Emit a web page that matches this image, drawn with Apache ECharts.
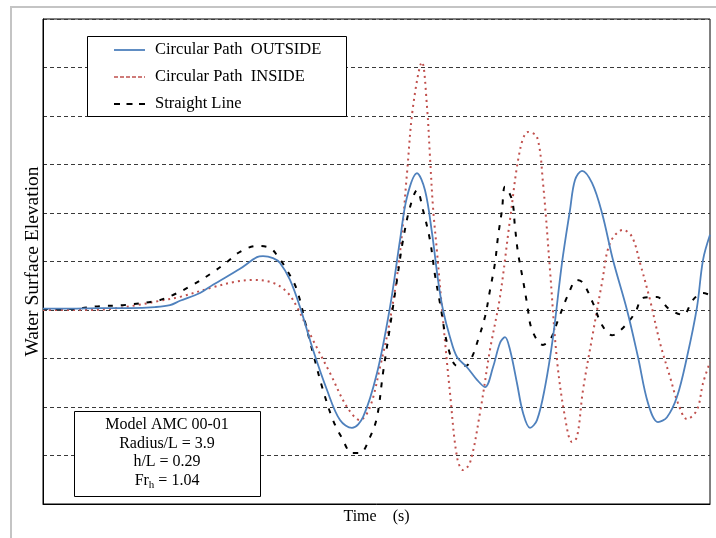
<!DOCTYPE html>
<html>
<head>
<meta charset="utf-8">
<script src="https://cdn.jsdelivr.net/npm/echarts@6/dist/echarts.min.js"></script>
<style>
html,body{margin:0;padding:0;background:#fff;}
#chart{width:716px;height:538px;}
</style>
</head>
<body>
<div id="chart"></div>
<script>
// Time (s) and water surface elevation readings (arbitrary units, grid step = 1)
const outsideT = [0,0.54,1.14,1.74,2.24,2.54,2.74,3.14,3.40,3.94,4.28,4.40,4.60,4.74,4.94,5.14,5.40,5.68,5.94,6.18,6.40,6.68,6.94,7.14,7.28,7.48,7.64,7.78,7.90,8.00,8.14,8.28,8.48,8.68,8.84,9.00,9.14,9.24,9.34,9.48,9.60,9.74,9.88,10.04,10.20,10.38,10.54,10.64,10.78,10.98,11.18,11.40,11.68,11.90,12.10,12.30,12.48,12.68,12.88,13.08,13.20,13.34];
const outsideY = [0.03,0.03,0.04,0.04,0.06,0.10,0.19,0.35,0.52,0.85,1.09,1.11,1.07,0.97,0.62,0.06,-0.82,-1.65,-2.27,-2.43,-2.21,-1.30,0.06,1.44,2.33,2.82,2.47,1.59,0.62,0.00,-0.56,-0.97,-1.18,-1.44,-1.59,-1.18,-0.68,-0.56,-0.82,-1.51,-2.12,-2.43,-2.27,-1.59,-0.56,0.97,2.06,2.68,2.87,2.62,2.00,1.03,0.00,-0.97,-1.92,-2.31,-2.21,-1.79,-0.97,0.06,1.03,1.55];

const insideT = [0,0.74,1.34,1.88,2.34,2.74,3.40,3.84,4.20,4.60,4.88,5.08,5.40,5.74,6.08,6.34,6.54,6.74,6.94,7.14,7.28,7.40,7.58,7.68,7.74,7.80,7.88,8.00,8.14,8.28,8.40,8.54,8.74,8.94,9.14,9.34,9.54,9.70,9.88,10.00,10.14,10.28,10.44,10.58,10.68,10.80,11.00,11.18,11.34,11.60,11.78,11.94,12.14,12.34,12.54,12.70,12.88,13.08,13.20,13.34];
const insideY = [0,0,0.02,0.10,0.19,0.27,0.47,0.58,0.62,0.56,0.37,0.06,-0.62,-1.30,-2.00,-2.27,-2.00,-1.18,-0.21,1.18,2.82,4.19,5.11,4.19,3.15,2.12,1.20,-0.20,-1.71,-3.03,-3.30,-3.15,-2.12,-0.82,0.27,1.86,3.30,3.67,3.57,2.62,0.82,-1.03,-2.21,-2.72,-2.62,-1.65,-0.47,0.56,1.38,1.65,1.51,0.97,0.21,-0.68,-1.38,-1.92,-2.25,-2.06,-1.51,-1.07];

const straightT = [0,0.54,1.14,1.60,2.28,2.60,3.00,3.40,3.68,3.94,4.28,4.54,4.68,4.88,5.08,5.28,5.40,5.60,5.80,5.98,6.18,6.34,6.54,6.68,6.80,6.94,7.08,7.20,7.34,7.48,7.60,7.74,7.84,7.94,8.10,8.28,8.46,8.58,8.70,8.84,8.94,9.04,9.10,9.18,9.24,9.38,9.44,9.50,9.60,9.68,9.78,10.00,10.14,10.30,10.50,10.68,10.80,11.00,11.18,11.38,11.60,11.84,12.00,12.28,12.50,12.80,13.00,13.20,13.34];
const straightY = [0.02,0.02,0.08,0.10,0.19,0.31,0.52,0.78,0.99,1.20,1.32,1.28,1.13,0.82,0.41,-0.41,-0.89,-1.65,-2.27,-2.64,-2.95,-2.95,-2.62,-2.21,-1.30,-0.35,0.62,1.44,2.12,2.47,2.06,1.44,0.72,0.14,-0.76,-1.15,-1.15,-0.97,-0.62,-0.14,0.41,0.97,1.51,2.06,2.54,2.27,1.71,1.18,0.62,0.14,-0.41,-0.72,-0.62,-0.21,0.31,0.62,0.56,0.14,-0.31,-0.52,-0.37,-0.06,0.25,0.27,0.04,-0.10,0.21,0.35,0.31];

const seriesNames = ['Circular Path  OUTSIDE', 'Circular Path  INSIDE', 'Straight Line'];
const annotationLines = ['Model AMC 00-01', 'Radius/L = 3.9', 'h/L = 0.29', 'Fr_h = 1.04'];

const zip = (t, y) => t.map((v, i) => [v, y[i]]);
const FONT = '"Liberation Serif", "Times New Roman", serif';

const chart = echarts.init(document.getElementById('chart'), null, {renderer: 'canvas'});
chart.setOption({
  animation: false,
  backgroundColor: '#fff',
  grid: {left: 43, top: 19, right: 6, bottom: 34, show: true, borderColor: '#000', borderWidth: 1, backgroundColor: 'transparent'},
  xAxis: {
    type: 'value', min: 0, max: 13.34,
    name: 'Time    (s)', nameLocation: 'middle', nameGap: 5,
    nameTextStyle: {fontFamily: FONT, fontSize: 16, color: '#000', verticalAlign: 'top'},
    axisLine: {show: true, onZero: false, lineStyle: {color: '#000', width: 1}},
    axisTick: {show: false}, axisLabel: {show: false}, splitLine: {show: false}
  },
  yAxis: {
    type: 'value', min: -4, max: 6, interval: 1,
    name: 'Water Surface Elevation', nameLocation: 'middle', nameGap: 0,
    nameTextStyle: {fontFamily: FONT, fontSize: 19.5, color: '#000'},
    axisLine: {show: true, onZero: false, lineStyle: {color: '#000', width: 1}},
    axisTick: {show: false}, axisLabel: {show: false},
    splitLine: {show: true, lineStyle: {color: '#3a3a3a', width: 1, type: [4, 3]}}
  },
  series: [
    {name: seriesNames[1], type: 'line', data: zip(insideT, insideY), smooth: 0.35, showSymbol: false, z: 2,
     lineStyle: {color: '#c0504d', width: 2, type: [2, 4]}},
    {name: seriesNames[2], type: 'line', data: zip(straightT, straightY), smooth: 0.35, showSymbol: false, z: 3,
     lineStyle: {color: '#000', width: 2, type: [5, 8]}},
    {name: seriesNames[0], type: 'line', data: zip(outsideT, outsideY), smooth: 0.35, showSymbol: false, z: 4,
     lineStyle: {color: '#4f81bd', width: 1.8}}
  ],
  graphic: [
    {type: 'rect', z: 0, silent: true, shape: {x: 11, y: 7, width: 800, height: 700}, style: {fill: null, stroke: '#c4c4c4', lineWidth: 2}},
    // legend
    {type: 'rect', z: 10, shape: {x: 87.5, y: 36.5, width: 259, height: 80}, style: {fill: '#fff', stroke: '#000', lineWidth: 1}},
    {type: 'line', z: 11, shape: {x1: 114, y1: 50, x2: 145, y2: 50}, style: {stroke: '#4f81bd', lineWidth: 1.8}},
    {type: 'line', z: 11, shape: {x1: 114, y1: 77, x2: 145, y2: 77}, style: {stroke: '#c0504d', lineWidth: 1.5, lineDash: [4, 2]}},
    {type: 'line', z: 11, shape: {x1: 114, y1: 104, x2: 145, y2: 104}, style: {stroke: '#000', lineWidth: 2, lineDash: [6, 6.5]}},
    {type: 'text', z: 11, x: 155, y: 50, style: {text: seriesNames[0], font: '16.5px ' + FONT, fill: '#000', verticalAlign: 'middle'}},
    {type: 'text', z: 11, x: 155, y: 77, style: {text: seriesNames[1], font: '16.5px ' + FONT, fill: '#000', verticalAlign: 'middle'}},
    {type: 'text', z: 11, x: 155, y: 104, style: {text: seriesNames[2], font: '16.5px ' + FONT, fill: '#000', verticalAlign: 'middle'}},
    // annotation box
    {type: 'rect', z: 10, shape: {x: 74.5, y: 411.5, width: 186, height: 85}, style: {fill: '#fff', stroke: '#000', lineWidth: 1}},
    {type: 'text', z: 11, x: 167, y: 425, style: {text: annotationLines[0], font: '16px ' + FONT, fill: '#000', align: 'center', verticalAlign: 'middle'}},
    {type: 'text', z: 11, x: 167, y: 444, style: {text: annotationLines[1], font: '16px ' + FONT, fill: '#000', align: 'center', verticalAlign: 'middle'}},
    {type: 'text', z: 11, x: 167, y: 462, style: {text: annotationLines[2], font: '16px ' + FONT, fill: '#000', align: 'center', verticalAlign: 'middle'}},
    {type: 'text', z: 11, x: 167, y: 481, style: {
      text: '{a|Fr}{s|h}{a| = 1.04}', align: 'center', verticalAlign: 'middle',
      rich: {
        a: {fontFamily: FONT, fontSize: 16, fill: '#000', color: '#000', verticalAlign: 'middle'},
        s: {fontFamily: FONT, fontSize: 11, fill: '#000', color: '#000', padding: [8, 0, 0, 0]}
      }
    }}
  ]
});
</script>
</body>
</html>
